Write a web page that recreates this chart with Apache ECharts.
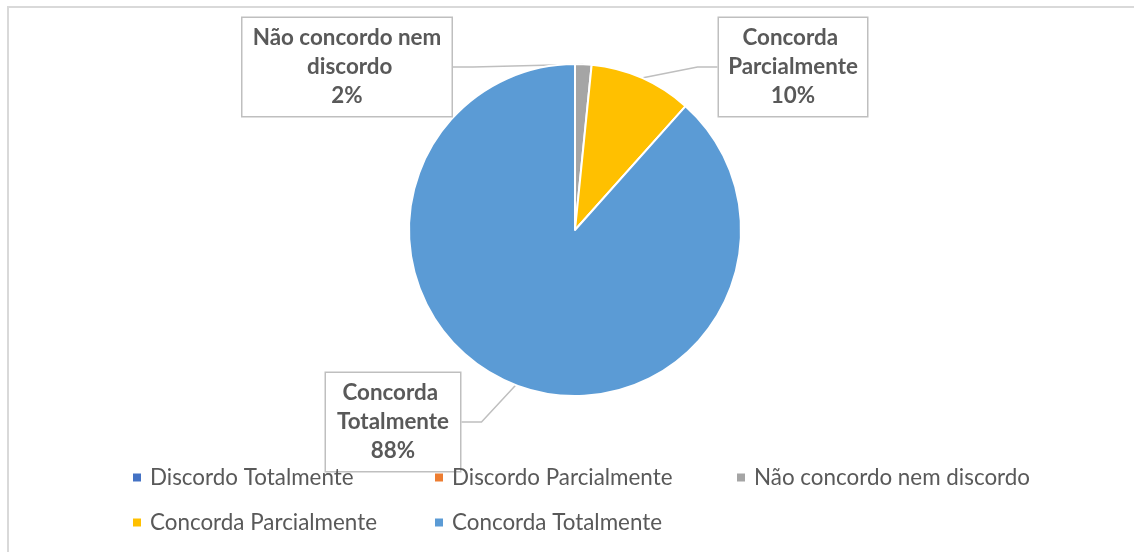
<!DOCTYPE html>
<html>
<head>
<meta charset="utf-8">
<script src="https://cdn.jsdelivr.net/npm/echarts@6/dist/echarts.min.js"></script>
<style>
html,body{margin:0;padding:0;background:#fff;}
#frame{position:absolute;left:7px;top:6px;width:1200px;height:600px;border-left:2px solid #D9D9D9;border-top:2px solid #D9D9D9;box-sizing:border-box;}
#chart{position:absolute;left:0;top:0;width:1134px;height:552px;}
</style>
</head>
<body>
<div id="frame"></div>
<div id="chart"></div>
<script>
const categories = ['Discordo Totalmente', 'Discordo Parcialmente', 'Não concordo nem discordo', 'Concorda Parcialmente', 'Concorda Totalmente'];
const values = [0, 0, 1.6, 10.0, 88.4];
const colors = ['#4472C4', '#ED7D31', '#A5A5A5', '#FFC000', '#5B9BD5'];

const labelBoxes = {
  2: {x: 347, y: 67, w: 201},
  3: {x: 793, y: 67, w: 140},
  4: {x: 393, y: 422, w: 126}
};

const chart = echarts.init(document.getElementById('chart'));
const font = 'Lato, "Open Sans", sans-serif';

const data = categories.map((name, i) => {
  const item = {name: name, value: values[i], itemStyle: {color: colors[i]}};
  if (values[i] === 0) {
    item.label = {show: false};
    item.labelLine = {show: false};
  } else {
    item.label = {width: labelBoxes[i].w};
  }
  return item;
});

chart.setOption({
  animation: false,
  legend: {
    left: 133,
    top: 460,
    width: 960,
    padding: 0,
    orient: 'horizontal',
    icon: 'rect',
    itemWidth: 8,
    itemHeight: 8,
    itemGap: 10,
    itemStyle: {borderWidth: 0},
    data: categories,
    textStyle: {
      fontFamily: font,
      fontSize: 22.4,
      color: '#595959',
      width: 275,
      lineHeight: 35,
      padding: [0, 0, 0, 4]
    }
  },
  series: [{
    type: 'pie',
    center: [575, 230],
    radius: 166,
    startAngle: 90,
    clockwise: true,
    percentPrecision: 0,
    data: data,
    itemStyle: {borderColor: '#fff', borderWidth: 2},
    label: {
      show: true,
      position: 'outside',
      formatter: '{b}\n{d}%',
      fontFamily: font,
      fontSize: 22.4,
      fontWeight: 'bold',
      color: '#595959',
      lineHeight: 29,
      overflow: 'break',
      align: 'center',
      backgroundColor: '#fff',
      borderColor: '#BFBFBF',
      borderWidth: 1.5,
      padding: [8, 4, 3, 4]
    },
    labelLine: {
      show: true,
      length: 20,
      length2: 20,
      lineStyle: {color: '#BFBFBF', width: 1.5}
    },
    labelLayout: function (params) {
      const b = labelBoxes[params.dataIndex];
      if (!b) return {};
      return {x: b.x, y: b.y, align: 'center', verticalAlign: 'middle'};
    }
  }]
});
</script>
</body>
</html>
